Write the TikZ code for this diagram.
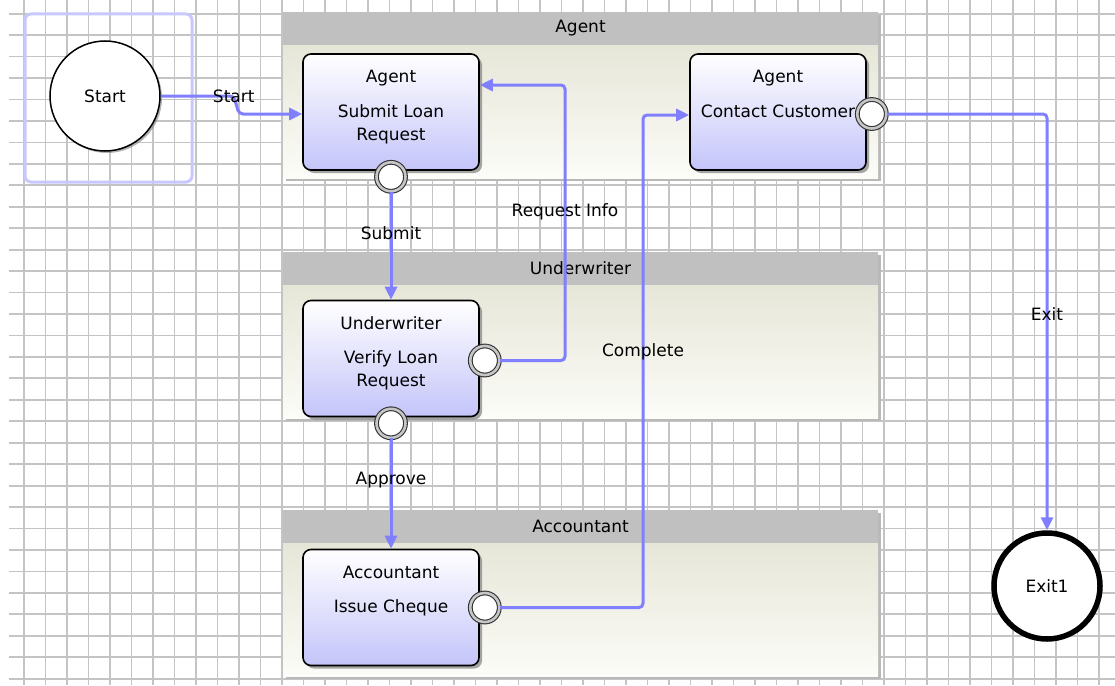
\documentclass[tikz,border=0pt]{standalone}
\usepackage{fontspec}
\setmainfont{DejaVu Sans}
\usepackage{xcolor}
\usepackage{tikz}
\usetikzlibrary{calc,positioning,arrows.meta,shadows}
\definecolor{flowblue}{HTML}{8080FF}
\definecolor{gridgray}{HTML}{C4C4C4}
\definecolor{lanehead}{HTML}{C0C0C0}
\definecolor{lanetop}{HTML}{E6E6D8}
\definecolor{lanebottom}{HTML}{FCFCF8}
\definecolor{taskbottom}{HTML}{C4C4FA}
\definecolor{selectblue}{HTML}{C8C8FF}

\tikzset{
  every node/.style={font=\fontsize{17}{23}\selectfont},
  gridline/.style={draw=gridgray, line width=1.8pt},
  laneheader/.style={fill=lanehead, minimum width=595pt, minimum height=33pt, inner sep=0pt},
  task/.style={rounded corners=8pt, draw=black, line width=1.6pt, top color=white, bottom color=taskbottom,
    minimum width=176pt, minimum height=116pt, inner sep=0pt,
    drop shadow={shadow xshift=3pt, shadow yshift=-3pt, fill=gray, opacity=0.7}},
  role/.style={anchor=north, inner sep=0pt},
  taskname/.style={anchor=north, inner sep=0pt, align=center},
  port/.style={circle, draw=gray!40!black, line width=1.1pt, double=gray!45, double distance=2.6pt,
    fill=white, minimum size=29pt, inner sep=0pt},
  flow/.style={draw=flowblue, line width=3pt, rounded corners=4pt, -{Triangle[length=13pt,width=12pt]}},
  lbl/.style={inner sep=1pt, text=black}
}

\begin{document}
\begin{tikzpicture}[x=1pt, y=-1pt]
  \useasboundingbox (0,0) rectangle (1115,685);
  \fill[white] (0,0) rectangle (1115,685);

  % grid
  \foreach \i in {0,...,50}
    \draw[gridline] (24+21.5*\i,0) -- (24+21.5*\i,685);
  \foreach \j in {0,...,31}
    \draw[gridline] (9,13.7+21.45*\j) -- (1115,13.7+21.45*\j);

  % lanes
  \foreach \name/\y in {Agent/12, Underwriter/252, Accountant/510} {
    \fill[gray!55] (286,\y+3) rectangle (881,\y+169);
    \shade[top color=lanetop, bottom color=lanebottom] (283,\y+33) rectangle (878,\y+166);
    \node[laneheader] (lane\name) at (580.5,\y+16.5) {\name};
  }

  % start and exit
  \draw[selectblue, line width=3pt, rounded corners=6pt] (25,14) rectangle (192,182);
  \node[circle, draw=black, line width=1.5pt, fill=white, minimum size=110pt,
    drop shadow={shadow xshift=2pt, shadow yshift=-2pt, fill=gray, opacity=0.6}] (start) at (105,96) {Start};
  \node[circle, draw=black, line width=5.5pt, fill=white, minimum size=106pt] (exit) at (1047,586) {Exit1};

  % tasks
  \node[task] (submit) at (391,112) {};
  \node[role] (submitrole) at ([yshift=-17pt]submit.north) {Agent};
  \node[taskname] (submitname) at ([yshift=-51pt]submit.north) {Submit Loan\\Request};

  \node[task] (contact) at (778,112) {};
  \node[role] (contactrole) at ([yshift=-17pt]contact.north) {Agent};
  \node[taskname] (contactname) at ([yshift=-51pt]contact.north) {Contact Customer};

  \node[task] (verify) at (391,358.5) {};
  \node[role] (verifyrole) at ([yshift=-17pt]verify.north) {Underwriter};
  \node[taskname] (verifyname) at ([yshift=-51pt]verify.north) {Verify Loan\\Request};

  \node[task] (issue) at (391,607.5) {};
  \node[role] (issuerole) at ([yshift=-17pt]issue.north) {Accountant};
  \node[taskname] (issuename) at ([yshift=-51pt]issue.north) {Issue Cheque};

  % ports
  \node[port] (submitout) at ([yshift=-6pt]submit.south) {};
  \node[port] (verifyout) at ([yshift=-6pt]verify.south) {};
  \node[port] (verifyback) at ([shift={(5pt,-2pt)}]verify.east) {};
  \node[port] (issueout) at ([xshift=5pt]issue.east) {};
  \node[port] (contactout) at ([shift={(5pt,-2pt)}]contact.east) {};

  % flows
  \coordinate (startjog) at (239,114);
  \coordinate (infoturn) at (565,85);
  \coordinate (completeturn) at (643,115);
  \draw[flow] (start.east) -- ++(73,0) node[lbl] (startlbl) {Start} -- (startjog) -- (submit.west |- startjog);
  \draw[flow] (submitout) -- node[lbl, pos=0.38] (submitlbl) {Submit} (verify.north);
  \draw[flow] (verifyback) -| (infoturn) node[lbl, pos=0.77] (infolbl) {Request Info} -- (submit.east |- infoturn);
  \draw[flow] (verifyout) -- node[lbl, pos=0.38] (approvelbl) {Approve} (issue.north);
  \draw[flow] (issueout) -| (completeturn) node[lbl, pos=0.76] (completelbl) {Complete} -- (contact.west |- completeturn);
  \draw[flow] (contactout) -| (exit.north) node[lbl, pos=0.74] (exitlbl) {Exit};
\end{tikzpicture}
\end{document}
